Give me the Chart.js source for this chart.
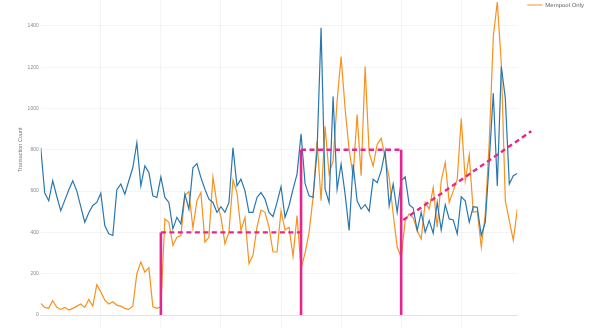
<!DOCTYPE html>
<html>
<head>
<meta charset="utf-8">
<script src="https://cdn.jsdelivr.net/npm/chart.js@4.4.1/dist/chart.umd.min.js"></script>
<style>
  html, body { margin: 0; padding: 0; background: #fff; overflow: hidden; }
  #wrap { position: absolute; left: 0; top: -24.1px; width: 599px; height: 352px; }
</style>
</head>
<body>
<div id="wrap"><canvas id="mempoolChart"></canvas></div>
<script>
// --- Series values, one per sample (index 0..119) ---
const confirmedCounts = [
    810, 590, 553, 650, 575, 505, 555, 605, 650, 601,
    525, 449, 495, 530, 545, 589, 433, 393, 385, 605,
    634, 585, 650, 714, 834, 625, 722, 690, 577, 569,
    669, 569, 545, 417, 473, 441, 585, 513, 713, 733,
    665, 609, 561, 545, 497, 524, 497, 545, 810, 625,
    658, 601, 497, 497, 569, 593, 561, 497, 476, 545,
    621, 473, 529, 609, 682, 877, 637, 577, 569, 794,
    1390, 609, 545, 1058, 609, 730, 585, 409, 730, 553,
    513, 534, 502, 658, 641, 698, 794, 529, 634, 497,
    650, 669, 534, 518, 409, 497, 401, 457, 396, 545,
    412, 534, 465, 460, 393, 572, 553, 449, 524, 521,
    385, 449, 746, 1074, 625, 1203, 1050, 634, 674, 685
];
const mempoolOnlyCounts = [
    56, 37, 32, 69, 37, 27, 37, 24, 32, 43,
    53, 37, 75, 43, 147, 112, 72, 53, 64, 48,
    43, 32, 27, 43, 200, 257, 208, 229, 40, 32,
    40, 465, 449, 337, 377, 385, 580, 598, 420, 553,
    593, 353, 377, 669, 537, 475, 345, 401, 653, 593,
    409, 473, 249, 289, 425, 508, 497, 425, 305, 305,
    505, 412, 425, 284, 481, 225, 300, 400, 569, 842,
    553, 914, 682, 746, 1034, 1251, 1000, 800, 674, 970,
    674, 1203, 786, 722, 826, 855, 762, 665, 489, 329,
    280, 457, 489, 470, 409, 369, 545, 513, 617, 425,
    650, 738, 545, 601, 658, 951, 650, 775, 497, 502,
    329, 489, 842, 1347, 1515, 1219, 553, 457, 361, 513
];

// --- Phase markers ---
const phaseIndex = [30, 65, 90];
const phaseTop = [400, 800, 800];
const levelFrom = [30, 65];
const levelTo = [65, 90];
const levelValue = [400, 800];
const trendIndex = [90.5, 122.5];
const trendValue = [460, 890];

const tickStep = 200;
const sampleStep = 15;

Chart.defaults.font.family = "'Liberation Sans', Arial, sans-serif";

document.addEventListener('DOMContentLoaded', function () {
    const canvas = document.getElementById('mempoolChart');
    const lastIndex = confirmedCounts.length - 1;

    const toPoints = values => values.map((v, i) => ({ x: i, y: v }));
    const verticalPoints = phaseIndex.flatMap((x, i) => [{ x: x, y: 0 }, { x: x, y: phaseTop[i] }, { x: x, y: null }]);
    const levelPoints = levelFrom.flatMap((x, i) => [{ x: x, y: levelValue[i] }, { x: levelTo[i], y: levelValue[i] }, { x: levelTo[i], y: null }]);
    const trendPoints = trendIndex.map((x, i) => ({ x: x, y: trendValue[i] }));

    const pink = '#e7268d';

    new Chart(canvas, {
        type: 'line',
        data: {
            datasets: [
                {
                    label: 'Confirmed',
                    data: toPoints(confirmedCounts),
                    borderColor: '#2877b0',
                    backgroundColor: '#2877b0',
                    borderWidth: 1.2,
                    pointRadius: 0,
                    order: 1
                },
                {
                    label: 'Mempool Only',
                    data: toPoints(mempoolOnlyCounts),
                    borderColor: '#f7911f',
                    backgroundColor: '#f7911f',
                    borderWidth: 1.2,
                    pointRadius: 0,
                    order: 2
                },
                {
                    label: 'Phase Start',
                    data: verticalPoints,
                    borderColor: pink,
                    borderWidth: 2.6,
                    pointRadius: 0,
                    spanGaps: false,
                    order: 0
                },
                {
                    label: 'Phase Level',
                    data: levelPoints,
                    borderColor: pink,
                    borderWidth: 2.4,
                    borderDash: [5, 3.5],
                    pointRadius: 0,
                    spanGaps: false,
                    order: 0
                },
                {
                    label: 'Trend',
                    data: trendPoints,
                    borderColor: pink,
                    borderWidth: 2.4,
                    borderDash: [5, 3.5],
                    pointRadius: 0,
                    clip: false,
                    order: 0
                }
            ]
        },
        options: {
            responsive: true,
            maintainAspectRatio: false,
            animation: false,
            layout: {
                padding: { top: 0, right: 5, bottom: 0, left: 13 }
            },
            elements: {
                line: { tension: 0 }
            },
            plugins: {
                legend: {
                    position: 'right',
                    align: 'start',
                    labels: {
                        usePointStyle: true,
                        pointStyle: 'line',
                        pointStyleWidth: 15,
                        padding: 10,
                        color: '#666',
                        font: { size: 6 },
                        filter: item => item.datasetIndex < 2
                    }
                },
                tooltip: { enabled: false }
            },
            scales: {
                x: {
                    type: 'linear',
                    min: 0,
                    max: lastIndex,
                    ticks: { stepSize: sampleStep, display: false, includeBounds: false },
                    grid: {
                        color: ctx => (ctx.tick && ctx.tick.value === 0) ? 'rgba(0,0,0,0)' : 'rgba(0,0,0,0.045)',
                        tickLength: 13
                    },
                    border: { color: '#e2e2e2' }
                },
                y: {
                    min: 0,
                    ticks: {
                        stepSize: tickStep,
                        format: { useGrouping: false },
                        color: '#8a8a8a',
                        padding: 2,
                        font: { size: 5, lineHeight: 2.6 }
                    },
                    grid: { color: 'rgba(0,0,0,0.045)', drawTicks: false },
                    border: { display: false },
                    title: {
                        display: true,
                        text: 'Transaction Count',
                        color: '#777',
                        font: { size: 5.5 },
                        padding: { top: 4, bottom: 2 }
                    }
                }
            }
        }
    });
});
</script>
</body>
</html>
